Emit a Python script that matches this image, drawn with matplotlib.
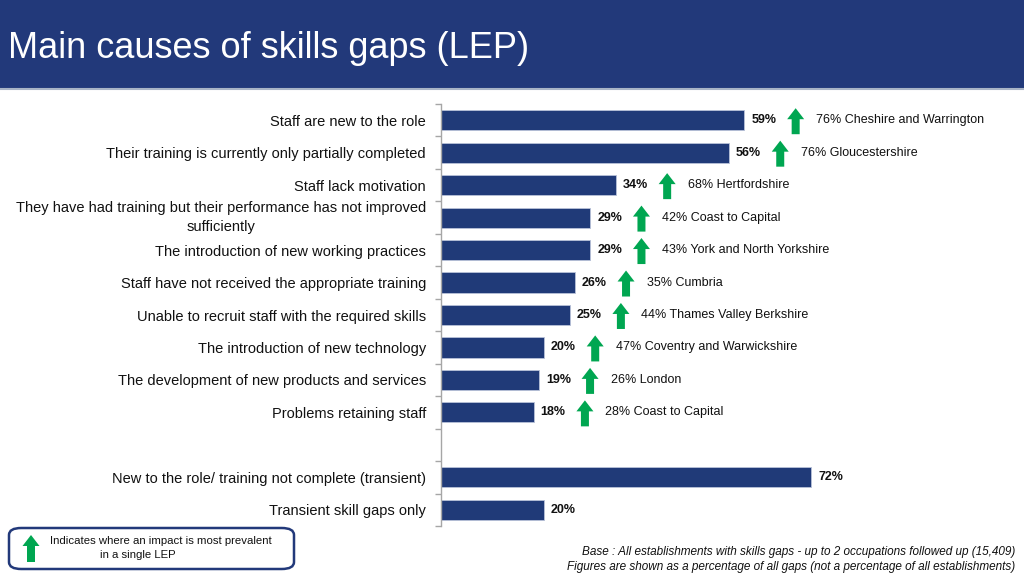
import matplotlib
matplotlib.use("Agg")
import matplotlib.pyplot as plt
from matplotlib.patches import Rectangle, Polygon, FancyBboxPatch
from matplotlib.lines import Line2D
from matplotlib.transforms import ScaledTranslation

plt.rcParams['font.family'] = ['Liberation Sans', 'DejaVu Sans']

categories = [
    "Staff are new to the role",
    "Their training is currently only partially completed",
    "Staff lack motivation",
    "They have had training but their performance has not improved\nsufficiently",
    "The introduction of new working practices",
    "Staff have not received the appropriate training",
    "Unable to recruit staff with the required skills",
    "The introduction of new technology",
    "The development of new products and services",
    "Problems retaining staff",
    "",
    "New to the role/ training not complete (transient)",
    "Transient skill gaps only",
]
values = [59, 56, 34, 29, 29, 26, 25, 20, 19, 18, None, 72, 20]
lep_labels = [
    "76% Cheshire and Warrington",
    "76% Gloucestershire",
    "68% Hertfordshire",
    "42% Coast to Capital",
    "43% York and North Yorkshire",
    "35% Cumbria",
    "44% Thames Valley Berkshire",
    "47% Coventry and Warwickshire",
    "26% London",
    "28% Coast to Capital",
]

NAVY = "#22397A"
BAR = "#203A78"
GREEN = "#00A651"

W, H = 1024, 576
fig = plt.figure(figsize=(W / 100, H / 100), dpi=100)

def fx(px):
    return px / W

def fy(py):
    return 1 - py / H

# title bar
fig.patches.append(Rectangle((0, fy(88)), 1, 88 / H, transform=fig.transFigure,
                             facecolor=NAVY, edgecolor='none', zorder=0))
fig.add_artist(Line2D([0, 1], [fy(89), fy(89)], transform=fig.transFigure,
                      color="#A9B4C6", lw=1.5))
fig.text(fx(8), fy(48), "Main causes of skills gaps (LEP)", color='white',
         fontsize=26, va='center', ha='left')

# axes
top_px, bot_px, left_px = 104, 526, 441
ax = fig.add_axes([fx(left_px), fy(bot_px), fx(514), (bot_px - top_px) / H])
n = len(categories)
ax.set_ylim(n - 0.5, -0.5)
ax.set_xlim(0, 100)

for i, v in enumerate(values):
    if v is None:
        continue
    ax.barh(i, v, height=0.62, color=BAR, edgecolor='#B8C2D8', linewidth=0.6)
    ax.text(v + 1.4, i, f"{v}%", va='center', ha='left', fontsize=9,
            fontweight='bold', color='#111111')

for s in ['top', 'right', 'bottom']:
    ax.spines[s].set_visible(False)
ax.spines['left'].set_color('#A6A6A6')
ax.spines['left'].set_linewidth(1.0)
ax.set_xticks([])
ax.set_yticks([i for i in range(n)])
ax.set_yticklabels(categories, fontsize=10.5, color='#111111',
                   multialignment='center', linespacing=1.45)
ax.tick_params(axis='y', which='major', length=0, pad=10.8)
ax.set_yticks([i - 0.5 for i in range(n + 1)], minor=True)
ax.tick_params(axis='y', which='minor', length=4, color='#A6A6A6', width=1)

# nudge the two-line label up slightly, as in the reference
lbl = ax.get_yticklabels()[3]
lbl.set_transform(lbl.get_transform() + ScaledTranslation(0, 4 / 100, fig.dpi_scale_trans))

# arrows (data coordinates: x in %, y in slots)
px_per_x = 514 / 100
px_per_y = (bot_px - top_px) / n

def arrow_poly(xc, yc, h_px=26, w_px=17, shaft_px=8, head_px=11):
    hw = w_px / 2 / px_per_x
    sw = shaft_px / 2 / px_per_x
    top = yc - (h_px / 2) / px_per_y
    bot = yc + (h_px / 2) / px_per_y
    neck = top + head_px / px_per_y
    return [(xc, top), (xc + hw, neck), (xc + sw, neck), (xc + sw, bot),
            (xc - sw, bot), (xc - sw, neck), (xc - hw, neck)]

for i, lab in enumerate(lep_labels):
    v = values[i]
    xa = v + 10
    ax.add_patch(Polygon(arrow_poly(xa, i + 0.03), closed=True, facecolor=GREEN,
                         edgecolor='none', clip_on=False))
    ax.text(xa + 4.0, i, lab, va='center', ha='left', fontsize=9,
            color='#111111', clip_on=False)

# legend box
fig.patches.append(FancyBboxPatch((fx(9), fy(569)), fx(285), (569 - 528) / H,
                                  boxstyle="round,pad=0,rounding_size=0.012",
                                  transform=fig.transFigure, facecolor='white',
                                  edgecolor=NAVY, linewidth=1.8))
def fig_arrow(xc, ytop, ybot, w=17, shaft=8, head=11):
    pts = [(xc, ytop), (xc + w / 2, ytop + head), (xc + shaft / 2, ytop + head),
           (xc + shaft / 2, ybot), (xc - shaft / 2, ybot),
           (xc - shaft / 2, ytop + head), (xc - w / 2, ytop + head)]
    return [(fx(x), fy(y)) for x, y in pts]
fig.patches.append(Polygon(fig_arrow(31, 535, 562), closed=True,
                           transform=fig.transFigure, facecolor=GREEN,
                           edgecolor='none'))
fig.text(fx(50), fy(541.5), "Indicates where an impact is most prevalent",
         fontsize=8.2, va='center', ha='left', color='#111111')
fig.text(fx(100), fy(555.5), "in a single LEP", fontsize=8.2, va='center',
         ha='left', color='#111111')

# footnotes
fig.text(fx(1015), fy(552),
         "Base : All establishments with skills gaps - up to 2 occupations followed up (15,409)",
         fontsize=8.45, style='italic', ha='right', va='center', color='#111111')
fig.text(fx(1015), fy(567),
         "Figures are shown as a percentage of all gaps (not a percentage of all establishments)",
         fontsize=8.45, style='italic', ha='right', va='center', color='#111111')

fig.savefig("out.png", dpi=100)
